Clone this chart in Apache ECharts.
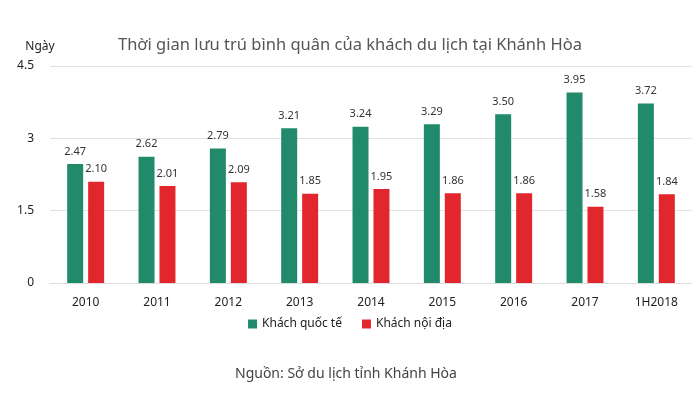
<!DOCTYPE html>
<html>
<head>
<meta charset="utf-8">
<script src="https://cdn.jsdelivr.net/npm/echarts@6/dist/echarts.min.js"></script>
<style>
  html, body { margin: 0; padding: 0; background: #fff; }
  #chart { width: 700px; height: 399px; }
</style>
</head>
<body>
<div id="chart"></div>
<script>
var years = ['2010', '2011', '2012', '2013', '2014', '2015', '2016', '2017', '1H2018'];
var quocTe = [2.47, 2.62, 2.79, 3.21, 3.24, 3.29, 3.50, 3.95, 3.72];
var noiDia = [2.10, 2.01, 2.09, 1.85, 1.95, 1.86, 1.86, 1.58, 1.84];

var font = 'Noto Sans';
var chart = echarts.init(document.getElementById('chart'));

function barLabel() {
	return {
		show: true,
		position: 'top',
		distance: 7,
		color: '#333',
		fontSize: 11,
		fontFamily: font,
		formatter: function (p) { return p.value.toFixed(2); }
	};
}

chart.setOption({
	animation: false,
	title: [{
		text: 'Thời gian lưu trú bình quân của khách du lịch tại Khánh Hòa',
		left: 'center',
		top: 32,
		textStyle: { color: '#555', fontSize: 16.5, fontWeight: 'normal', fontFamily: font }
	}, {
		text: 'Nguồn: Sở du lịch tỉnh Khánh Hòa',
		left: 230,
		top: 362,
		textStyle: { color: '#444', fontSize: 14, fontWeight: 'normal', fontFamily: font }
	}],
	legend: {
		bottom: 64,
		left: 'center',
		itemWidth: 9,
		itemHeight: 9,
		itemGap: 20,
		icon: 'rect',
		textStyle: { color: '#222', fontSize: 12, fontFamily: font },
		data: ['Khách quốc tế', 'Khách nội địa']
	},
	grid: { left: 50, right: 8, top: 66, bottom: 116 },
	xAxis: {
		type: 'category',
		data: years,
		axisLine: { lineStyle: { color: '#ddd' } },
		axisTick: { show: false },
		axisLabel: { color: '#222', fontSize: 12, fontFamily: font, margin: 14 }
	},
	yAxis: {
		type: 'value',
		min: 0,
		max: 4.5,
		interval: 1.5,
		name: 'Ngày',
		nameLocation: 'end',
		nameGap: 13,
		nameTextStyle: { color: '#222', fontSize: 12, fontFamily: font, align: 'center', padding: [0, 20, 0, 0] },
		axisLine: { show: false },
		axisTick: { show: false },
		axisLabel: { color: '#222', fontSize: 12, fontFamily: font, margin: 16 },
		splitLine: { lineStyle: { color: '#e2e2e2' } }
	},
	series: [{
		name: 'Khách quốc tế',
		type: 'bar',
		data: quocTe,
		barWidth: 16,
		barGap: '31%',
		itemStyle: { color: '#218a6b' },
		label: barLabel()
	}, {
		name: 'Khách nội địa',
		type: 'bar',
		data: noiDia,
		barWidth: 16,
		barGap: '31%',
		itemStyle: { color: '#e1262d' },
		label: barLabel()
	}]
});
</script>
</body>
</html>
